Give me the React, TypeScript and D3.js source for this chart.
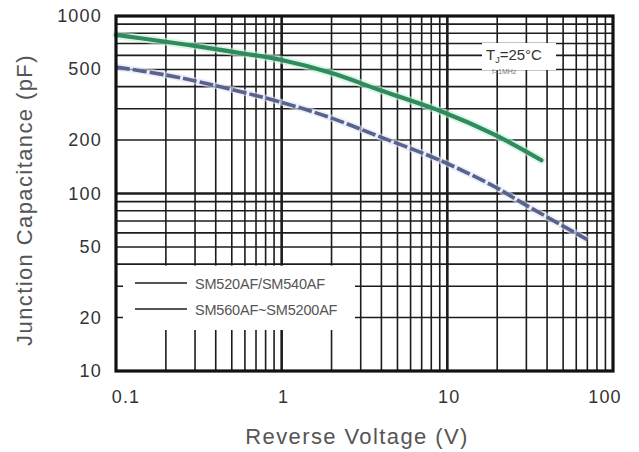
import * as d3 from 'd3';

// Junction capacitance vs reverse voltage (log-log)
const W = 639;
const H = 452;
const PLOT = { left: 116, right: 613, top: 16, bottom: 371 };

const X_DOMAIN: [number, number] = [0.1, 100];
const Y_DOMAIN: [number, number] = [10, 1000];

const X_TICKS = [0.1, 1, 10, 100];
const X_TICK_LABELS = ['0.1', '1', '10', '100'];
const Y_TICKS = [10, 20, 50, 100, 200, 500, 1000];
const Y_TICK_LABELS = ['10', '20', '50', '100', '200', '500', '1000'];

// SM520AF/SM540AF (green, solid)
const GREEN_V = [0.1, 0.2, 0.32, 0.56, 1, 2, 3.9, 9.4, 19.4, 37];
const GREEN_C = [782, 716, 672, 619, 565, 477, 383, 288, 214, 154];

// SM560AF~SM5200AF (blue, dashed)
const BLUE_V = [0.1, 0.2, 0.32, 1, 2, 3.9, 9, 19.4, 28.6, 70];
const BLUE_C = [516, 465, 425, 326, 266, 209, 154, 109, 88, 55];

const LEGEND = ['SM520AF/SM540AF', 'SM560AF~SM5200AF'];

const FONT = '"Liberation Sans", Arial, Helvetica, sans-serif';

function minorTicks(lo: number, hi: number): number[] {
  const out: number[] = [];
  for (let d = lo; d < hi; d *= 10) {
    for (let m = 2; m <= 9; m++) out.push(d * m);
  }
  return out;
}

export default function App() {
  const x = d3.scaleLog().domain(X_DOMAIN).range([PLOT.left, PLOT.right]);
  const y = d3.scaleLog().domain(Y_DOMAIN).range([PLOT.bottom, PLOT.top]);

  const line = d3
    .line<[number, number]>()
    .x((d) => x(d[0]))
    .y((d) => y(d[1]))
    .curve(d3.curveCatmullRom.alpha(0.5));

  const green = line(GREEN_V.map((v, i) => [v, GREEN_C[i]] as [number, number])) ?? '';
  const blue = line(BLUE_V.map((v, i) => [v, BLUE_C[i]] as [number, number])) ?? '';

  const xMinor = minorTicks(0.1, 100);
  const yMinor = minorTicks(10, 1000);
  const xMajor = [1, 10];
  const yMajor = [100];

  const gridColor = '#1c1c1c';

  // legend box (white area covering the grid)
  const lgBox = { x0: 123, x1: 355, y0: y(40) + 1.5, y1: 330 };
  const tjBox = { x0: 482, x1: 556, y0: 43, y1: 70 };

  return (
    <svg
      width={W}
      height={H}
      style={{ position: 'absolute', left: 0, top: 0, background: '#fff' }}
      fontFamily={FONT}
    >
      <rect x={0} y={0} width={W} height={H} fill="#fff" />

      {/* grid */}
      <g stroke={gridColor}>
        {xMinor.map((v) => (
          <line key={'xv' + v} x1={x(v)} x2={x(v)} y1={PLOT.top} y2={PLOT.bottom} strokeWidth={1.6} />
        ))}
        {yMinor.map((v) => (
          <line key={'yh' + v} x1={PLOT.left} x2={PLOT.right} y1={y(v)} y2={y(v)} strokeWidth={1.6} />
        ))}
        {xMajor.map((v) => (
          <line key={'xM' + v} x1={x(v)} x2={x(v)} y1={PLOT.top} y2={PLOT.bottom} strokeWidth={2.6} />
        ))}
        {yMajor.map((v) => (
          <line key={'yM' + v} x1={PLOT.left} x2={PLOT.right} y1={y(v)} y2={y(v)} strokeWidth={2.6} />
        ))}
      </g>

      {/* legend and annotation backgrounds */}
      <rect x={lgBox.x0} y={lgBox.y0} width={lgBox.x1 - lgBox.x0} height={lgBox.y1 - lgBox.y0} fill="#fff" />
      <rect x={tjBox.x0} y={tjBox.y0} width={tjBox.x1 - tjBox.x0} height={tjBox.y1 - tjBox.y0} fill="#fff" />

      {/* curves */}
      <path d={green} fill="none" stroke="#bff0da" strokeWidth={8} strokeLinecap="round" opacity={0.6} />
      <path d={green} fill="none" stroke="#2f8a5c" strokeWidth={4.2} strokeLinecap="round" />
      <path d={blue} fill="none" stroke="#dfe3f5" strokeWidth={7} opacity={0.6} />
      <path
        d={blue}
        fill="none"
        stroke="#58628c"
        strokeWidth={3.6}
        strokeDasharray="14 3"
        strokeLinecap="butt"
      />

      {/* frame */}
      <rect
        x={PLOT.left}
        y={PLOT.top}
        width={PLOT.right - PLOT.left}
        height={PLOT.bottom - PLOT.top}
        fill="none"
        stroke="#111"
        strokeWidth={3.2}
      />

      {/* legend */}
      {LEGEND.map((label, i) => {
        const ly = 283 + i * 26;
        return (
          <g key={label}>
            <line x1={135} x2={187} y1={ly} y2={ly} stroke="#555" strokeWidth={1.8} />
            <text x={195} y={ly + 6} fontSize={14.5} fill="#555" letterSpacing={-0.2}>
              {label}
            </text>
          </g>
        );
      })}

      {/* condition annotation */}
      <text x={486} y={60} fontSize={15} fill="#333">
        T
        <tspan fontSize={9} dy={3}>J</tspan>
        <tspan dy={-3}>=25°C</tspan>
      </text>
      <text x={492} y={74} fontSize={7} fill="#777">
        f=1MHz
      </text>

      {/* y tick labels */}
      {Y_TICKS.map((v, i) => (
        <text
          key={'yt' + v}
          x={102}
          y={y(v) + 6}
          textAnchor="end"
          fontSize={18}
          fill="#333"
          letterSpacing={1.2}
        >
          {Y_TICK_LABELS[i]}
        </text>
      ))}

      {/* x tick labels */}
      {X_TICKS.map((v, i) => {
        const dx = i === 0 ? 10 : i === X_TICKS.length - 1 ? -8 : 2;
        return (
          <text
            key={'xt' + v}
            x={x(v) + dx}
            y={403}
            textAnchor="middle"
            fontSize={18}
            fill="#333"
            letterSpacing={1.2}
          >
            {X_TICK_LABELS[i]}
          </text>
        );
      })}

      {/* axis titles */}
      <text x={357} y={444} textAnchor="middle" fontSize={22} fill="#555" letterSpacing={1.4}>
        Reverse  Voltage (V)
      </text>
      <text
        transform={`translate(32, 200) rotate(-90)`}
        textAnchor="middle"
        fontSize={22}
        fill="#555"
        letterSpacing={1.4}
      >
        Junction Capacitance (pF)
      </text>
    </svg>
  );
}
